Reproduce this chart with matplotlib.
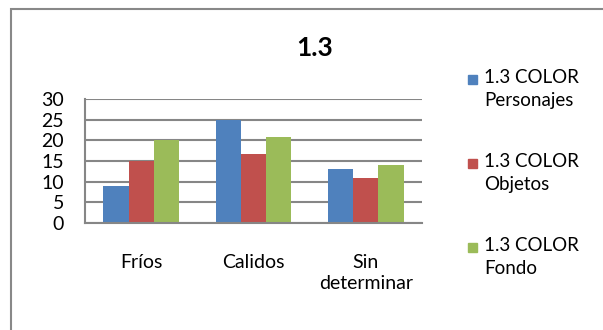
import matplotlib.pyplot as plt
from matplotlib.patches import Rectangle
import numpy as np

categorias = ["Fríos", "Calidos", "Sin\ndeterminar"]
personajes = [9, 25, 13]
objetos = [15, 16.6, 11]
fondo = [20, 20.7, 14]
series = [personajes, objetos, fondo]
etiquetas = ["1.3 COLOR\nPersonajes", "1.3 COLOR\nObjetos", "1.3 COLOR\nFondo"]
colores = ["#4F81BD", "#C0504D", "#9BBB59"]
yticks = [0, 5, 10, 15, 20, 25, 30]

plt.rcParams['font.family'] = ['Lato', 'DejaVu Sans']

fig = plt.figure(figsize=(6.03, 3.30), dpi=100)
# marco exterior del grafico
fig.patches.append(Rectangle((11/603, -0.1), 1.2, (330-9)/330 + 0.1, transform=fig.transFigure,
                             fill=False, edgecolor="#888888", linewidth=1.5))

ax = fig.add_axes([85/603, 107/330, 337/603, 124/330])
x = np.arange(len(categorias))
w = 0.225
for i, (vals, col) in enumerate(zip(series, colores)):
    ax.bar(x + (i - 1) * w, vals, width=w, color=col, zorder=3)

ax.set_xlim(-0.5, len(categorias) - 0.5)
ax.set_ylim(0, 30)
ax.set_yticks(yticks)
ax.set_xticks(x)
ax.set_xticklabels(categorias, fontsize=14, linespacing=1.3)
ax.tick_params(axis='x', length=0, pad=22)
ax.tick_params(axis='y', length=0, pad=15, labelsize=14)
ax.grid(axis='y', color="#868686", linewidth=1.5, zorder=0)
for s in ["top", "right"]:
    ax.spines[s].set_visible(False)
for s in ["left", "bottom"]:
    ax.spines[s].set_color("#868686")
    ax.spines[s].set_linewidth(1.5)
ax.spines["bottom"].set_zorder(4)

fig.text(315/603, 1 - 48.5/330, "1.3", fontsize=19, fontweight='bold', ha='center', va='center')

# leyenda manual
for i, (lab, col) in enumerate(zip(etiquetas, colores)):
    ytop = 79 + i * 84
    fig.patches.append(Rectangle((468/603, 1 - (ytop + 4.5)/330), 9/603, 9/330,
                                 transform=fig.transFigure, color=col))
    fig.text(484/603, 1 - (ytop - 10)/330, lab, fontsize=13.5, va='top', ha='left', linespacing=1.45)

fig.savefig("out.png", dpi=100)
